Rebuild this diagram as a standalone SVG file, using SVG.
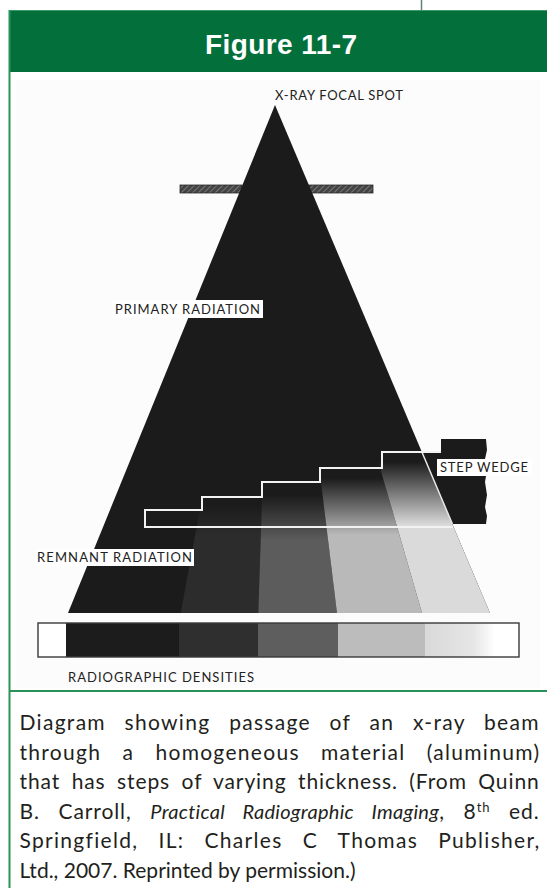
<svg xmlns="http://www.w3.org/2000/svg" width="547" height="888" viewBox="0 0 547 888">
  <style>
    .lbl { font-family: "Lato", "Liberation Sans", sans-serif; font-size: 13px; fill: #222222; }
    .cap { font-family: "Lato", "Liberation Sans", sans-serif; font-size: 21px; fill: #231f20; }
    .title { font-family: "Liberation Sans", "Lato", sans-serif; font-size: 28px; font-weight: bold; fill: #ffffff; }
    .frame { stroke: #2a9159; stroke-width: 2; fill: none; }
    .tag { fill: #ffffff; }
    .wedge-line { stroke: #f2f2f2; stroke-width: 2; fill: none; }
    .shutter { fill: url(#hatch); stroke: #2a2a2a; stroke-width: 0.8; }
  </style>
  <defs>
    <pattern id="hatch" width="4" height="4" patternUnits="userSpaceOnUse" patternTransform="rotate(45)">
      <rect width="4" height="4" fill="#444444"/>
      <line x1="0" y1="0" x2="0" y2="4" stroke="#9a9a9a" stroke-width="1.2"/>
    </pattern>
    <linearGradient id="gB" gradientUnits="userSpaceOnUse" x1="0" y1="505" x2="0" y2="535">
      <stop offset="0" stop-color="#1b1b1b"/><stop offset="1" stop-color="#2c2c2c"/>
    </linearGradient>
    <linearGradient id="gC" gradientUnits="userSpaceOnUse" x1="0" y1="495" x2="0" y2="540">
      <stop offset="0" stop-color="#1b1b1b"/><stop offset="1" stop-color="#5c5c5c"/>
    </linearGradient>
    <linearGradient id="gD" gradientUnits="userSpaceOnUse" x1="0" y1="478" x2="0" y2="535">
      <stop offset="0" stop-color="#1b1b1b"/><stop offset="1" stop-color="#b9b9b9"/>
    </linearGradient>
    <linearGradient id="gE" gradientUnits="userSpaceOnUse" x1="0" y1="462" x2="0" y2="525">
      <stop offset="0" stop-color="#1b1b1b"/><stop offset="1" stop-color="#dadada"/>
    </linearGradient>
    <linearGradient id="gBarEnd" x1="0" y1="0" x2="1" y2="0">
      <stop offset="0" stop-color="#d9d9d9"/><stop offset="0.7" stop-color="#e6e6e6"/><stop offset="1" stop-color="#ffffff"/>
    </linearGradient>
  </defs>

  <!-- page above the panel -->
  <rect x="0" y="0" width="547" height="888" fill="#ffffff"/>
  <line x1="421.5" y1="0" x2="421.5" y2="10" stroke="#5d8271" stroke-width="1.5"/>

  <!-- panel header -->
  <g id="header">
    <rect x="9" y="10" width="538" height="62" fill="#03703c"/>
    <line x1="9" y1="10.5" x2="547" y2="10.5" stroke="#3b9a68" stroke-width="1"/>
    <text class="title" x="281" y="54" text-anchor="middle" textLength="152">Figure 11-7</text>
  </g>

  <!-- panel frame -->
  <g id="frame">
    <rect x="16" y="80" width="524" height="608" fill="#fcfcfc"/>
    <line class="frame" x1="9.5" y1="10" x2="9.5" y2="888"/>
    <line class="frame" x1="9" y1="691" x2="547" y2="691"/>
  </g>

  <!-- collimator shutters -->
  <g id="collimator">
    <rect class="shutter" x="180" y="185" width="62" height="8"/>
    <rect class="shutter" x="309" y="185" width="64" height="8"/>
  </g>

  <!-- x-ray beam from the focal spot -->
  <g id="beam">
    <polygon points="275,105 68,613 490,613" fill="#1b1b1b"/>
    <!-- attenuated bands below each wedge step -->
    <polygon points="201.7,500 262,500 258.3,613 180.7,613" fill="url(#gB)"/>
    <polygon points="262.3,490 322,490 337,613 258.3,613" fill="url(#gC)"/>
    <polygon points="319.5,470 380.6,470 422,613 337,613" fill="url(#gD)"/>
    <polygon points="376.3,455 423.1,455 490,613 422,613" fill="url(#gE)"/>
  </g>

  <!-- aluminium step wedge -->
  <g id="step-wedge">
    <path d="M421.9,452 L441,452 L441,439 L486,439 L487,450 L485,459 L487,470 L485,482 L487,495 L485,507 L487,516 L486,524 L452.4,524 Z" fill="#1b1b1b"/>
    <line x1="421.9" y1="452" x2="452.4" y2="524" stroke="#e8e8e8" stroke-width="1.5"/>
    <polyline class="wedge-line" points="145,527 145,510 202,510 202,497 262,497 262,482 320,482 320,468 382,468 382,452 441,452"/>
    <line class="wedge-line" x1="144" y1="527" x2="453" y2="527"/>
  </g>

  <!-- radiographic density strip -->
  <g id="density-strip">
    <rect x="38" y="623" width="481" height="34" fill="#ffffff"/>
    <rect x="66" y="623" width="113" height="34" fill="#1c1c1c"/>
    <rect x="179" y="623" width="79" height="34" fill="#2f2f2f"/>
    <rect x="258" y="623" width="80" height="34" fill="#5e5e5e"/>
    <rect x="338" y="623" width="87" height="34" fill="#bcbcbc"/>
    <rect x="425" y="623" width="70" height="34" fill="url(#gBarEnd)"/>
    <rect x="38" y="623" width="481" height="34" fill="none" stroke="#3a3a3a" stroke-width="1.4"/>
  </g>

  <!-- labels -->
  <g id="label-focal-spot">
    <text class="lbl" x="275" y="100" textLength="128">X-RAY FOCAL SPOT</text>
  </g>
  <g id="label-primary">
    <rect class="tag" x="112" y="300" width="151" height="18"/>
    <text class="lbl" x="115" y="314" textLength="145">PRIMARY RADIATION</text>
  </g>
  <g id="label-step-wedge">
    <rect class="tag" x="437" y="459" width="95" height="17"/>
    <text class="lbl" x="440" y="472" textLength="88">STEP WEDGE</text>
  </g>
  <g id="label-remnant">
    <rect class="tag" x="35" y="549" width="159" height="17"/>
    <text class="lbl" x="37" y="562" textLength="155">REMNANT RADIATION</text>
  </g>
  <g id="label-densities">
    <text class="lbl" x="68" y="682" textLength="186">RADIOGRAPHIC DENSITIES</text>
  </g>

  <!-- caption, justified lines -->
  <g id="caption">
    <text class="cap" x="19.5" y="730" letter-spacing="1.3" word-spacing="12">Diagram showing passage of an x-ray beam</text>
    <text class="cap" x="19.5" y="759.5" letter-spacing="1.3" word-spacing="14.5">through a homogeneous material (aluminum)</text>
    <text class="cap" x="19.5" y="789" letter-spacing="0.9" word-spacing="5.2">that has steps of varying thickness. (From Quinn</text>
    <text class="cap" x="19.5" y="818.5" letter-spacing="0.9" word-spacing="12.4">B. Carroll, <tspan font-style="italic" font-size="20" letter-spacing="0.3">Practical Radiographic Imaging</tspan>, 8<tspan font-size="13" dy="-7">th</tspan><tspan dy="7"> ed.</tspan></text>
    <text class="cap" x="19.5" y="848" letter-spacing="1.3" word-spacing="13.5">Springfield, IL: Charles C Thomas Publisher,</text>
    <text class="cap" x="19.5" y="877.5">Ltd., 2007. Reprinted by permission.)</text>
  </g>
</svg>
